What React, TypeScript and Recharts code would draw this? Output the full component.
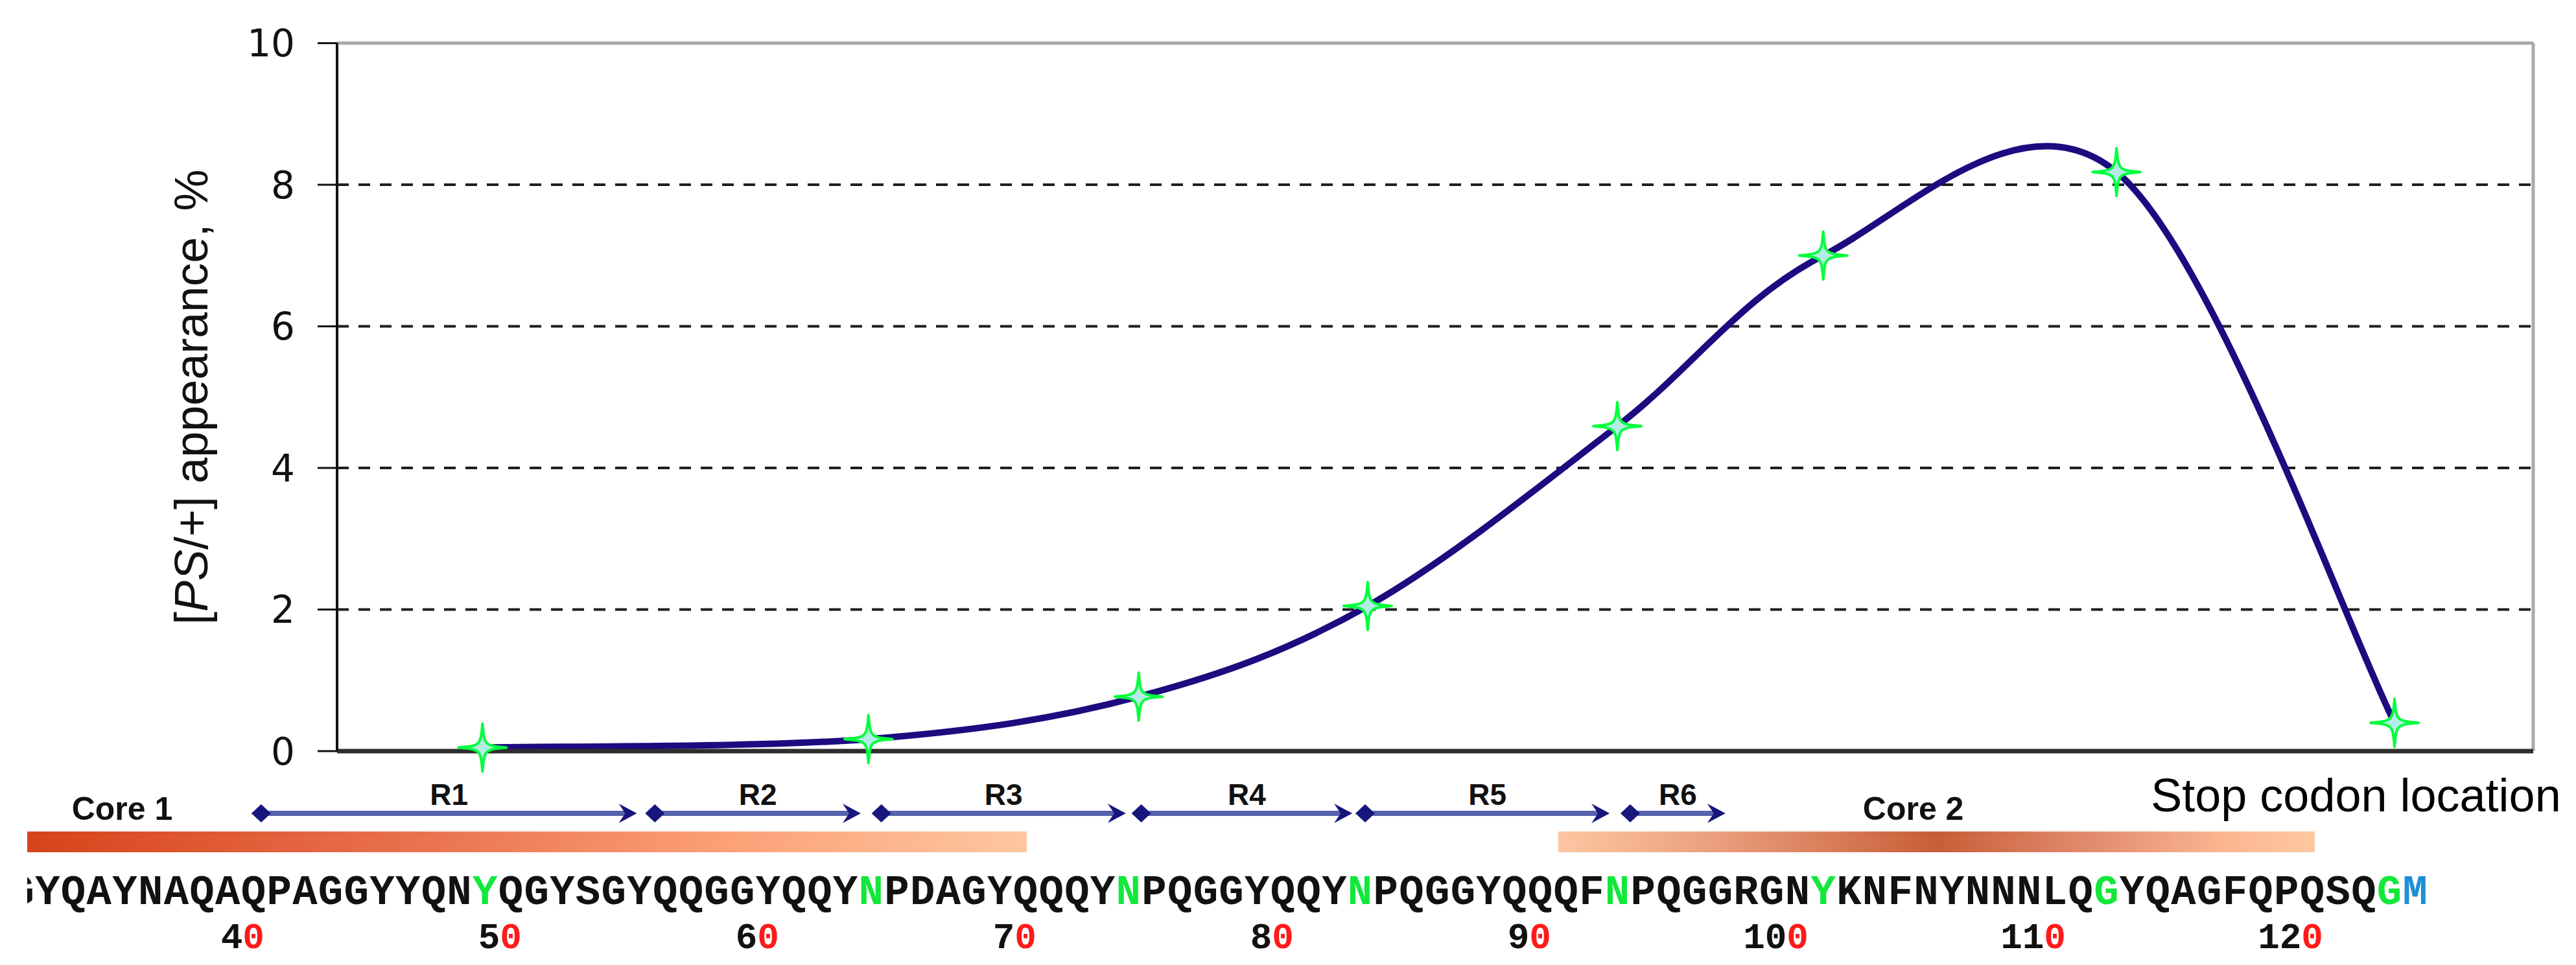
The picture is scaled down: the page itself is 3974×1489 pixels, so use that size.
import React from "react";
import {
  ComposedChart,
  Line,
  XAxis,
  YAxis,
  CartesianGrid,
  ReferenceLine,
  ReferenceArea,
  ReferenceDot,
} from "recharts";

// stop codon positions (residue number) and [PS+] appearance, %
const stopPositions = [48.9, 63.9, 74.4, 83.3, 93.0, 101.0, 112.4, 123.2];
const appearance = [0.05, 0.17, 0.77, 2.05, 4.59, 7.0, 8.18, 0.4];

const yTicks = [0, 2, 4, 6, 8, 10];
const xTicks = [43.25, 53.92, 64.58, 75.25, 85.92, 96.59, 107.25, 117.92, 128.59];

// Sup35 sequence shown under the plot, first letter is residue 31
const sequence = "GYQAYNAQAQPAGGYYQNYQGYSGYQQGGYQQYNPDAGYQQQYNPQGGYQQYNPQGGYQQQFNPQGGRGNYKNFNYNNNLQGYQAGFQPQSQGM";
const seqStart = 31;
const greenResidues = [49, 64, 74, 83, 93, 101, 112, 123];
const blueResidues = [124];
const residueNumbers = [40, 50, 60, 70, 80, 90, 100, 110, 120];

const repeatNames = ["R1", "R2", "R3", "R4", "R5", "R6"];
const repeatStart = [40.3, 55.6, 64.4, 74.5, 83.2, 93.5];
const repeatEnd = [54.9, 63.6, 73.9, 82.7, 92.7, 97.2];

const coreNames = ["Core 1", "Core 2"];
const coreStart = [31.2, 90.7];
const coreEnd = [70.05, 120.1];
const coreLabelAt = [34.9, 104.5];

const chartData = stopPositions.map((pos, i) => ({ pos, value: appearance[i] }));

// Excel-like smoothed line (Catmull-Rom as cubic bezier)
const excelSmooth = (ctx: any) => {
  let pts: number[][] = [];
  return {
    areaStart() {},
    areaEnd() {},
    lineStart() {
      pts = [];
    },
    point(x: number, y: number) {
      pts.push([+x, +y]);
    },
    lineEnd() {
      if (!pts.length) return;
      ctx.moveTo(pts[0][0], pts[0][1]);
      for (let i = 0; i < pts.length - 1; i++) {
        const p0 = pts[Math.max(i - 1, 0)];
        const p1 = pts[i];
        const p2 = pts[i + 1];
        const p3 = pts[Math.min(i + 2, pts.length - 1)];
        ctx.bezierCurveTo(
          p1[0] + (p2[0] - p0[0]) / 6,
          p1[1] + (p2[1] - p0[1]) / 6,
          p2[0] - (p3[0] - p1[0]) / 6,
          p2[1] - (p3[1] - p1[1]) / 6,
          p2[0],
          p2[1]
        );
      }
    },
  };
};

const StarDot = (props: any) => {
  const { cx, cy } = props;
  if (cx == null || cy == null) return <g key={props.index} />;
  const R = 37;
  const k = 3;
  const arm = (ax: number, ay: number, bx: number, by: number, sx: number, sy: number) =>
    ` C${cx + sx * k},${cy + sy * k} ${cx + sx * k},${cy + sy * k} ${bx},${by}`;
  const d =
    `M${cx},${cy - R}` +
    arm(cx, cy - R, cx + R, cy, 1, -1) +
    arm(cx + R, cy, cx, cy + R, 1, 1) +
    arm(cx, cy + R, cx - R, cy, -1, 1) +
    arm(cx - R, cy, cx, cy - R, -1, -1) +
    "Z";
  return <path key={props.index} d={d} fill="#b3ece4" stroke="#00ff3c" strokeWidth={4} strokeLinejoin="round" />;
};

const RepeatArrow = (props: any) => {
  const { x1, y1, x2 } = props;
  const y = y1;
  return (
    <g>
      <line x1={x1} y1={y} x2={x2 - 16} y2={y} stroke="#5763ad" strokeWidth={8} />
      <polygon points={`${x1 - 15},${y} ${x1},${y - 14} ${x1 + 15},${y} ${x1},${y + 14}`} fill="#16167c" />
      <polygon points={`${x2},${y} ${x2 - 28},${y - 15} ${x2 - 18},${y} ${x2 - 28},${y + 15}`} fill="#16167c" />
    </g>
  );
};

// rows under the plot, in y-axis units
const ARROW_Y = -0.879;
const REPEAT_LABEL_Y = -0.76;
const CORE_BAR_TOP = -1.135;
const CORE_BAR_BOTTOM = -1.428;
const SEQ_Y = -2.16;
const NUM_Y = -2.78;

const sans = "'Liberation Sans', Arial, sans-serif";
const mono = "'Liberation Mono', 'Courier New', monospace";

export default function App() {
  return (
    <div style={{ position: "absolute", left: 0, top: 0, width: 3974, height: 1489, background: "#fff" }}>
      <ComposedChart
        width={3974}
        height={1489}
        data={chartData}
        margin={{ top: 66.6, right: 66, bottom: 300, left: 0 }}
      >
        <defs>
          <linearGradient id="core1Grad" x1="0" y1="0" x2="1" y2="0">
            <stop offset="0%" stopColor="#d6431b" />
            <stop offset="40%" stopColor="#ea7350" />
            <stop offset="70%" stopColor="#fca077" />
            <stop offset="100%" stopColor="#fdc7a0" />
          </linearGradient>
          <linearGradient id="core2Grad" x1="0" y1="0" x2="1" y2="0">
            <stop offset="0%" stopColor="#fdc6a2" />
            <stop offset="20%" stopColor="#eba07f" />
            <stop offset="50%" stopColor="#c85e38" />
            <stop offset="75%" stopColor="#e8967a" />
            <stop offset="88%" stopColor="#fbb690" />
            <stop offset="100%" stopColor="#fdc8a2" />
          </linearGradient>
          <clipPath id="figClip">
            <rect x={42} y={0} width={3974} height={1489} />
          </clipPath>
        </defs>
        <CartesianGrid
          vertical={false}
          horizontalValues={[2, 4, 6, 8]}
          stroke="#1e1e1e"
          strokeWidth={4}
          strokeDasharray="18 15"
        />
        <XAxis
          dataKey="pos"
          type="number"
          domain={[xTicks[0], xTicks[xTicks.length - 1]]}
          ticks={xTicks}
          tick={false}
          tickSize={18}
          height={30}
          axisLine={{ stroke: "#2e2e2e", strokeWidth: 7 }}
          tickLine={{ stroke: "#222", strokeWidth: 4 }}
        />
        <YAxis
          type="number"
          domain={[0, 10]}
          ticks={yTicks}
          width={520}
          tickSize={30}
          tickMargin={35}
          tick={{ fill: "#111", fontSize: 58, fontFamily: "'DejaVu Sans', Verdana, sans-serif" }}
          axisLine={{ stroke: "#111", strokeWidth: 4 }}
          tickLine={{ stroke: "#111", strokeWidth: 3 }}
          label={{
            content: (p: any) => {
              const vb = p.viewBox || { x: 0, y: 0, width: 0, height: 0 };
              const cx = vb.x + 295;
              const cy = vb.y + vb.height / 2;
              return (
                <text
                  x={cx}
                  y={cy}
                  transform={`rotate(-90 ${cx} ${cy})`}
                  textAnchor="middle"
                  dominantBaseline="central"
                  fontFamily={sans}
                  fontSize={72}
                  fill="#111"
                >
                  [<tspan fontStyle="italic">PS</tspan>/+] appearance, %
                </text>
              );
            },
          }}
        />
        <ReferenceLine y={10} stroke="#a9a9a9" strokeWidth={5} />
        <ReferenceLine x={xTicks[xTicks.length - 1]} stroke="#a9a9a9" strokeWidth={5} />

        {/* core regions */}
        {coreNames.map((name, i) => (
          <ReferenceArea
            key={name}
            x1={coreStart[i]}
            x2={coreEnd[i]}
            y1={CORE_BAR_BOTTOM}
            y2={CORE_BAR_TOP}
            ifOverflow="visible"
            fill={`url(#core${i + 1}Grad)`}
            fillOpacity={1}
            stroke="none"
            clipPath="url(#figClip)"
          />
        ))}
        {coreNames.map((name, i) => (
          <ReferenceDot
            key={name + "-label"}
            x={coreLabelAt[i]}
            y={ARROW_Y - 0.09}
            ifOverflow="visible"
            shape={(p: any) => (
              <text x={p.cx} y={p.cy} textAnchor="middle" fontFamily={sans} fontWeight="bold" fontSize={50} fill="#111">
                {name}
              </text>
            )}
          />
        ))}

        {/* repeats */}
        {repeatNames.map((name, i) => (
          <ReferenceLine
            key={name}
            ifOverflow="visible"
            segment={[
              { x: repeatStart[i], y: ARROW_Y },
              { x: repeatEnd[i], y: ARROW_Y },
            ]}
            shape={RepeatArrow}
          />
        ))}
        {repeatNames.map((name, i) => (
          <ReferenceDot
            key={name + "-label"}
            x={(repeatStart[i] + repeatEnd[i]) / 2}
            y={REPEAT_LABEL_Y}
            ifOverflow="visible"
            shape={(p: any) => (
              <text x={p.cx} y={p.cy} textAnchor="middle" fontFamily={sans} fontWeight="bold" fontSize={46} fill="#111">
                {name}
              </text>
            )}
          />
        ))}

        <ReferenceDot
          x={121.7}
          y={-0.85}
          ifOverflow="visible"
          shape={(p: any) => (
            <text x={p.cx} y={p.cy} textAnchor="middle" fontFamily={sans} fontSize={72} fill="#000">
              Stop codon location
            </text>
          )}
        />

        {/* sequence */}
        {sequence.split("").map((ch, i) => {
          const res = seqStart + i;
          const color = greenResidues.includes(res) ? "#12e83a" : blueResidues.includes(res) ? "#1e8fd6" : "#111";
          return (
            <ReferenceDot
              key={"s" + i}
              x={res}
              y={SEQ_Y}
              ifOverflow="visible"
              shape={(p: any) => (
                <text
                  x={p.cx}
                  y={p.cy}
                  textAnchor="middle"
                  fontFamily={mono}
                  fontWeight="bold"
                  fontSize={64}
                  fill={color}
                  clipPath="url(#figClip)"
                >
                  {ch}
                </text>
              )}
            />
          );
        })}
        {residueNumbers.map((n) => {
          const s = String(n);
          return (
            <ReferenceDot
              key={"n" + n}
              x={n}
              y={NUM_Y}
              ifOverflow="visible"
              shape={(p: any) => (
                <text x={p.cx + 17} y={p.cy} textAnchor="end" fontFamily={mono} fontWeight="bold" fontSize={56} fill="#111">
                  {s.slice(0, -1)}
                  <tspan fill="#ff1a1a">{s.slice(-1)}</tspan>
                </text>
              )}
            />
          );
        })}

        <Line
          dataKey="value"
          type={excelSmooth as any}
          stroke="#1d0b80"
          strokeWidth={10}
          dot={StarDot}
          activeDot={false}
          isAnimationActive={false}
        />
      </ComposedChart>
    </div>
  );
}
